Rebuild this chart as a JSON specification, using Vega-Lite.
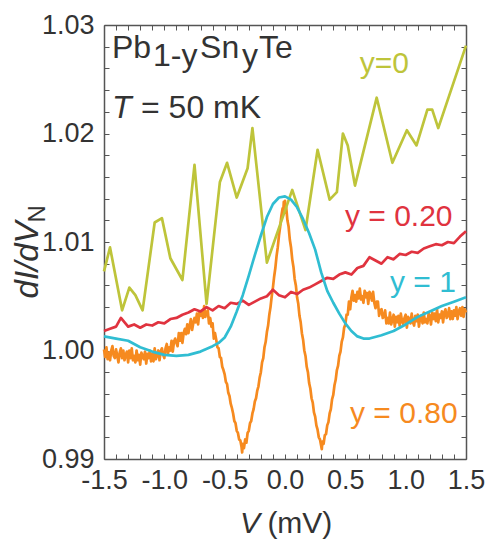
{
  "$schema": "https://vega.github.io/schema/vega-lite/v6.json",
  "width": 362,
  "height": 434,
  "autosize": "none",
  "padding": {"left": 104, "top": 25, "right": 22, "bottom": 88},
  "background": "white",
  "config": {"view": {"stroke": null}, "font": "Liberation Sans"},
  "datasets": {
    "curves": [
      {"s":"y=0.80","V":-1.50,"G":1.0001},{"s":"y=0.80","V":-1.49,"G":0.9994},{"s":"y=0.80","V":-1.48,"G":1.0003},{"s":"y=0.80","V":-1.47,"G":0.9992},{"s":"y=0.80","V":-1.46,"G":0.9998},{"s":"y=0.80","V":-1.45,"G":0.9991},{"s":"y=0.80","V":-1.44,"G":1.0000},{"s":"y=0.80","V":-1.43,"G":1.0004},{"s":"y=0.80","V":-1.42,"G":0.9995},{"s":"y=0.80","V":-1.41,"G":0.9993},
      {"s":"y=0.80","V":-1.40,"G":1.0001},{"s":"y=0.80","V":-1.39,"G":0.9995},{"s":"y=0.80","V":-1.38,"G":0.9989},{"s":"y=0.80","V":-1.37,"G":0.9998},{"s":"y=0.80","V":-1.36,"G":1.0002},{"s":"y=0.80","V":-1.35,"G":0.9993},{"s":"y=0.80","V":-1.34,"G":1.0000},{"s":"y=0.80","V":-1.33,"G":0.9991},{"s":"y=0.80","V":-1.32,"G":0.9996},{"s":"y=0.80","V":-1.31,"G":0.9999},
      {"s":"y=0.80","V":-1.30,"G":0.9989},{"s":"y=0.80","V":-1.29,"G":1.0000},{"s":"y=0.80","V":-1.28,"G":0.9993},{"s":"y=0.80","V":-1.27,"G":1.0002},{"s":"y=0.80","V":-1.26,"G":0.9991},{"s":"y=0.80","V":-1.25,"G":0.9995},{"s":"y=0.80","V":-1.24,"G":0.9989},{"s":"y=0.80","V":-1.23,"G":1.0000},{"s":"y=0.80","V":-1.22,"G":0.9991},{"s":"y=0.80","V":-1.21,"G":0.9996},
      {"s":"y=0.80","V":-1.20,"G":0.9987},{"s":"y=0.80","V":-1.19,"G":0.9998},{"s":"y=0.80","V":-1.18,"G":0.9995},{"s":"y=0.80","V":-1.17,"G":0.9992},{"s":"y=0.80","V":-1.16,"G":0.9999},{"s":"y=0.80","V":-1.15,"G":0.9988},{"s":"y=0.80","V":-1.14,"G":0.9997},{"s":"y=0.80","V":-1.13,"G":0.9993},{"s":"y=0.80","V":-1.12,"G":1.0000},{"s":"y=0.80","V":-1.11,"G":0.9990},
      {"s":"y=0.80","V":-1.10,"G":0.9997},{"s":"y=0.80","V":-1.09,"G":0.9990},{"s":"y=0.80","V":-1.08,"G":1.0002},{"s":"y=0.80","V":-1.07,"G":0.9992},{"s":"y=0.80","V":-1.06,"G":0.9996},{"s":"y=0.80","V":-1.05,"G":1.0000},{"s":"y=0.80","V":-1.04,"G":0.9991},{"s":"y=0.80","V":-1.03,"G":0.9999},{"s":"y=0.80","V":-1.02,"G":1.0002},{"s":"y=0.80","V":-1.01,"G":0.9996},
      {"s":"y=0.80","V":-1.00,"G":0.9993},{"s":"y=0.80","V":-0.99,"G":1.0002},{"s":"y=0.80","V":-0.98,"G":1.0006},{"s":"y=0.80","V":-0.97,"G":0.9997},{"s":"y=0.80","V":-0.96,"G":1.0003},{"s":"y=0.80","V":-0.95,"G":1.0000},{"s":"y=0.80","V":-0.94,"G":1.0009},{"s":"y=0.80","V":-0.93,"G":0.9999},{"s":"y=0.80","V":-0.92,"G":1.0008},{"s":"y=0.80","V":-0.91,"G":1.0011},
      {"s":"y=0.80","V":-0.90,"G":1.0007},{"s":"y=0.80","V":-0.89,"G":1.0004},{"s":"y=0.80","V":-0.88,"G":1.0016},{"s":"y=0.80","V":-0.87,"G":1.0009},{"s":"y=0.80","V":-0.86,"G":1.0016},{"s":"y=0.80","V":-0.85,"G":1.0007},{"s":"y=0.80","V":-0.84,"G":1.0016},{"s":"y=0.80","V":-0.83,"G":1.0020},{"s":"y=0.80","V":-0.82,"G":1.0015},{"s":"y=0.80","V":-0.81,"G":1.0024},
      {"s":"y=0.80","V":-0.80,"G":1.0016},{"s":"y=0.80","V":-0.79,"G":1.0023},{"s":"y=0.80","V":-0.78,"G":1.0029},{"s":"y=0.80","V":-0.77,"G":1.0019},{"s":"y=0.80","V":-0.76,"G":1.0025},{"s":"y=0.80","V":-0.75,"G":1.0030},{"s":"y=0.80","V":-0.74,"G":1.0026},{"s":"y=0.80","V":-0.73,"G":1.0034},{"s":"y=0.80","V":-0.72,"G":1.0024},{"s":"y=0.80","V":-0.71,"G":1.0035},
      {"s":"y=0.80","V":-0.70,"G":1.0032},{"s":"y=0.80","V":-0.69,"G":1.0036},{"s":"y=0.80","V":-0.68,"G":1.0030},{"s":"y=0.80","V":-0.67,"G":1.0041},{"s":"y=0.80","V":-0.66,"G":1.0031},{"s":"y=0.80","V":-0.65,"G":1.0035},{"s":"y=0.80","V":-0.64,"G":1.0037},{"s":"y=0.80","V":-0.63,"G":1.0025},{"s":"y=0.80","V":-0.62,"G":1.0030},{"s":"y=0.80","V":-0.61,"G":1.0022},
      {"s":"y=0.80","V":-0.60,"G":1.0025},{"s":"y=0.80","V":-0.59,"G":1.0011},{"s":"y=0.80","V":-0.58,"G":1.0016},{"s":"y=0.80","V":-0.57,"G":1.0010},{"s":"y=0.80","V":-0.56,"G":1.0003},
      {"s":"y=0.80","V":-0.55,"G":1.0002},{"s":"y=0.80","V":-0.54,"G":0.9994},{"s":"y=0.80","V":-0.53,"G":0.9993},{"s":"y=0.80","V":-0.52,"G":0.9985},{"s":"y=0.80","V":-0.51,"G":0.9982},{"s":"y=0.80","V":-0.50,"G":0.9978},{"s":"y=0.80","V":-0.49,"G":0.9971},{"s":"y=0.80","V":-0.48,"G":0.9969},{"s":"y=0.80","V":-0.47,"G":0.9961},{"s":"y=0.80","V":-0.46,"G":0.9958},
      {"s":"y=0.80","V":-0.45,"G":0.9951},{"s":"y=0.80","V":-0.44,"G":0.9947},{"s":"y=0.80","V":-0.43,"G":0.9942},{"s":"y=0.80","V":-0.42,"G":0.9935},{"s":"y=0.80","V":-0.41,"G":0.9933},{"s":"y=0.80","V":-0.40,"G":0.9926},{"s":"y=0.80","V":-0.39,"G":0.9924},{"s":"y=0.80","V":-0.38,"G":0.9918},{"s":"y=0.80","V":-0.37,"G":0.9917},{"s":"y=0.80","V":-0.36,"G":0.9911},
      {"s":"y=0.80","V":-0.355,"G":0.9906},{"s":"y=0.80","V":-0.35,"G":0.9914},{"s":"y=0.80","V":-0.34,"G":0.9910},{"s":"y=0.80","V":-0.33,"G":0.9918},{"s":"y=0.80","V":-0.32,"G":0.9915},{"s":"y=0.80","V":-0.31,"G":0.9924},{"s":"y=0.80","V":-0.30,"G":0.9926},{"s":"y=0.80","V":-0.29,"G":0.9933},{"s":"y=0.80","V":-0.28,"G":0.9935},{"s":"y=0.80","V":-0.27,"G":0.9942},
      {"s":"y=0.80","V":-0.26,"G":0.9946},{"s":"y=0.80","V":-0.25,"G":0.9953},{"s":"y=0.80","V":-0.24,"G":0.9956},{"s":"y=0.80","V":-0.23,"G":0.9963},{"s":"y=0.80","V":-0.22,"G":0.9967},{"s":"y=0.80","V":-0.21,"G":0.9975},{"s":"y=0.80","V":-0.20,"G":0.9980},{"s":"y=0.80","V":-0.19,"G":0.9989},{"s":"y=0.80","V":-0.18,"G":0.9993},{"s":"y=0.80","V":-0.17,"G":1.0003},
      {"s":"y=0.80","V":-0.16,"G":1.0008},{"s":"y=0.80","V":-0.15,"G":1.0017},{"s":"y=0.80","V":-0.14,"G":1.0023},{"s":"y=0.80","V":-0.13,"G":1.0033},{"s":"y=0.80","V":-0.12,"G":1.0040},{"s":"y=0.80","V":-0.11,"G":1.0050},{"s":"y=0.80","V":-0.10,"G":1.0058},{"s":"y=0.80","V":-0.09,"G":1.0068},{"s":"y=0.80","V":-0.08,"G":1.0076},{"s":"y=0.80","V":-0.07,"G":1.0087},
      {"s":"y=0.80","V":-0.06,"G":1.0095},{"s":"y=0.80","V":-0.05,"G":1.0106},{"s":"y=0.80","V":-0.04,"G":1.0114},{"s":"y=0.80","V":-0.03,"G":1.0124},{"s":"y=0.80","V":-0.02,"G":1.0131},{"s":"y=0.80","V":-0.015,"G":1.0126},{"s":"y=0.80","V":-0.01,"G":1.0137},{"s":"y=0.80","V":-0.005,"G":1.0129},{"s":"y=0.80","V":0.00,"G":1.0138},{"s":"y=0.80","V":0.005,"G":1.0127},
      {"s":"y=0.80","V":0.01,"G":1.0132},{"s":"y=0.80","V":0.02,"G":1.0120},{"s":"y=0.80","V":0.03,"G":1.0114},{"s":"y=0.80","V":0.04,"G":1.0102},{"s":"y=0.80","V":0.05,"G":1.0095},{"s":"y=0.80","V":0.06,"G":1.0084},{"s":"y=0.80","V":0.07,"G":1.0077},{"s":"y=0.80","V":0.08,"G":1.0066},{"s":"y=0.80","V":0.09,"G":1.0060},{"s":"y=0.80","V":0.10,"G":1.0049},
      {"s":"y=0.80","V":0.11,"G":1.0043},{"s":"y=0.80","V":0.12,"G":1.0032},{"s":"y=0.80","V":0.13,"G":1.0026},{"s":"y=0.80","V":0.14,"G":1.0016},{"s":"y=0.80","V":0.15,"G":1.0010},{"s":"y=0.80","V":0.16,"G":1.0000},{"s":"y=0.80","V":0.17,"G":0.9995},{"s":"y=0.80","V":0.18,"G":0.9985},{"s":"y=0.80","V":0.19,"G":0.9980},{"s":"y=0.80","V":0.20,"G":0.9970},
      {"s":"y=0.80","V":0.21,"G":0.9965},{"s":"y=0.80","V":0.22,"G":0.9956},{"s":"y=0.80","V":0.23,"G":0.9952},{"s":"y=0.80","V":0.24,"G":0.9943},{"s":"y=0.80","V":0.25,"G":0.9939},{"s":"y=0.80","V":0.26,"G":0.9931},{"s":"y=0.80","V":0.27,"G":0.9927},{"s":"y=0.80","V":0.28,"G":0.9920},{"s":"y=0.80","V":0.29,"G":0.9918},{"s":"y=0.80","V":0.30,"G":0.9912},
      {"s":"y=0.80","V":0.305,"G":0.9909},{"s":"y=0.80","V":0.31,"G":0.9916},{"s":"y=0.80","V":0.32,"G":0.9914},{"s":"y=0.80","V":0.33,"G":0.9922},{"s":"y=0.80","V":0.34,"G":0.9923},{"s":"y=0.80","V":0.35,"G":0.9931},{"s":"y=0.80","V":0.36,"G":0.9934},{"s":"y=0.80","V":0.37,"G":0.9942},{"s":"y=0.80","V":0.38,"G":0.9946},{"s":"y=0.80","V":0.39,"G":0.9955},
      {"s":"y=0.80","V":0.40,"G":0.9959},{"s":"y=0.80","V":0.41,"G":0.9968},{"s":"y=0.80","V":0.42,"G":0.9973},{"s":"y=0.80","V":0.43,"G":0.9982},{"s":"y=0.80","V":0.44,"G":0.9986},{"s":"y=0.80","V":0.45,"G":0.9995},{"s":"y=0.80","V":0.46,"G":0.9999},{"s":"y=0.80","V":0.47,"G":1.0008},{"s":"y=0.80","V":0.48,"G":1.0012},{"s":"y=0.80","V":0.49,"G":1.0021},
      {"s":"y=0.80","V":0.50,"G":1.0024},{"s":"y=0.80","V":0.51,"G":1.0033},
      {"s":"y=0.80","V":0.52,"G":1.0033},{"s":"y=0.80","V":0.53,"G":1.0045},{"s":"y=0.80","V":0.54,"G":1.0038},{"s":"y=0.80","V":0.55,"G":1.0049},{"s":"y=0.80","V":0.56,"G":1.0055},{"s":"y=0.80","V":0.57,"G":1.0046},{"s":"y=0.80","V":0.58,"G":1.0051},{"s":"y=0.80","V":0.59,"G":1.0045},{"s":"y=0.80","V":0.60,"G":1.0054},{"s":"y=0.80","V":0.61,"G":1.0048},
      {"s":"y=0.80","V":0.62,"G":1.0057},{"s":"y=0.80","V":0.63,"G":1.0047},{"s":"y=0.80","V":0.64,"G":1.0050},{"s":"y=0.80","V":0.65,"G":1.0044},{"s":"y=0.80","V":0.66,"G":1.0055},{"s":"y=0.80","V":0.67,"G":1.0049},{"s":"y=0.80","V":0.68,"G":1.0053},{"s":"y=0.80","V":0.69,"G":1.0043},{"s":"y=0.80","V":0.70,"G":1.0054},{"s":"y=0.80","V":0.71,"G":1.0052},
      {"s":"y=0.80","V":0.72,"G":1.0046},{"s":"y=0.80","V":0.73,"G":1.0054},{"s":"y=0.80","V":0.74,"G":1.0044},{"s":"y=0.80","V":0.75,"G":1.0039},{"s":"y=0.80","V":0.76,"G":1.0045},{"s":"y=0.80","V":0.77,"G":1.0045},{"s":"y=0.80","V":0.78,"G":1.0032},{"s":"y=0.80","V":0.79,"G":1.0037},{"s":"y=0.80","V":0.80,"G":1.0038},{"s":"y=0.80","V":0.81,"G":1.0030},
      {"s":"y=0.80","V":0.82,"G":1.0031},{"s":"y=0.80","V":0.83,"G":1.0037},{"s":"y=0.80","V":0.84,"G":1.0025},{"s":"y=0.80","V":0.85,"G":1.0030},{"s":"y=0.80","V":0.86,"G":1.0025},{"s":"y=0.80","V":0.87,"G":1.0035},{"s":"y=0.80","V":0.88,"G":1.0024},{"s":"y=0.80","V":0.89,"G":1.0028},{"s":"y=0.80","V":0.90,"G":1.0033},{"s":"y=0.80","V":0.91,"G":1.0022},
      {"s":"y=0.80","V":0.92,"G":1.0031},{"s":"y=0.80","V":0.93,"G":1.0026},{"s":"y=0.80","V":0.94,"G":1.0032},{"s":"y=0.80","V":0.95,"G":1.0023},{"s":"y=0.80","V":0.96,"G":1.0034},{"s":"y=0.80","V":0.97,"G":1.0027},{"s":"y=0.80","V":0.98,"G":1.0024},{"s":"y=0.80","V":0.99,"G":1.0030},{"s":"y=0.80","V":1.00,"G":1.0033},{"s":"y=0.80","V":1.01,"G":1.0021},
      {"s":"y=0.80","V":1.02,"G":1.0031},{"s":"y=0.80","V":1.03,"G":1.0029},{"s":"y=0.80","V":1.04,"G":1.0025},{"s":"y=0.80","V":1.05,"G":1.0034},{"s":"y=0.80","V":1.06,"G":1.0026},{"s":"y=0.80","V":1.07,"G":1.0023},{"s":"y=0.80","V":1.08,"G":1.0032},{"s":"y=0.80","V":1.09,"G":1.0027},{"s":"y=0.80","V":1.10,"G":1.0033},{"s":"y=0.80","V":1.11,"G":1.0022},
      {"s":"y=0.80","V":1.12,"G":1.0030},{"s":"y=0.80","V":1.13,"G":1.0032},{"s":"y=0.80","V":1.14,"G":1.0025},{"s":"y=0.80","V":1.15,"G":1.0035},{"s":"y=0.80","V":1.16,"G":1.0026},{"s":"y=0.80","V":1.17,"G":1.0029},{"s":"y=0.80","V":1.18,"G":1.0025},{"s":"y=0.80","V":1.19,"G":1.0034},{"s":"y=0.80","V":1.20,"G":1.0032},{"s":"y=0.80","V":1.21,"G":1.0024},
      {"s":"y=0.80","V":1.22,"G":1.0035},{"s":"y=0.80","V":1.23,"G":1.0029},{"s":"y=0.80","V":1.24,"G":1.0034},{"s":"y=0.80","V":1.25,"G":1.0027},{"s":"y=0.80","V":1.26,"G":1.0038},{"s":"y=0.80","V":1.27,"G":1.0026},{"s":"y=0.80","V":1.28,"G":1.0033},{"s":"y=0.80","V":1.29,"G":1.0030},{"s":"y=0.80","V":1.30,"G":1.0036},{"s":"y=0.80","V":1.31,"G":1.0026},
      {"s":"y=0.80","V":1.32,"G":1.0035},{"s":"y=0.80","V":1.33,"G":1.0038},{"s":"y=0.80","V":1.34,"G":1.0030},{"s":"y=0.80","V":1.35,"G":1.0032},{"s":"y=0.80","V":1.36,"G":1.0039},{"s":"y=0.80","V":1.37,"G":1.0029},{"s":"y=0.80","V":1.38,"G":1.0036},{"s":"y=0.80","V":1.39,"G":1.0029},{"s":"y=0.80","V":1.40,"G":1.0037},{"s":"y=0.80","V":1.41,"G":1.0032},
      {"s":"y=0.80","V":1.42,"G":1.0040},{"s":"y=0.80","V":1.43,"G":1.0029},{"s":"y=0.80","V":1.44,"G":1.0036},{"s":"y=0.80","V":1.45,"G":1.0039},{"s":"y=0.80","V":1.46,"G":1.0032},{"s":"y=0.80","V":1.47,"G":1.0040},{"s":"y=0.80","V":1.48,"G":1.0031},{"s":"y=0.80","V":1.49,"G":1.0038},{"s":"y=0.80","V":1.50,"G":1.0035},

      {"s":"y=0","V":-1.50,"G":1.0073},{"s":"y=0","V":-1.45,"G":1.0095},{"s":"y=0","V":-1.35,"G":1.0037},{"s":"y=0","V":-1.29,"G":1.0058},{"s":"y=0","V":-1.24,"G":1.0051},{"s":"y=0","V":-1.18,"G":1.0037},{"s":"y=0","V":-1.08,"G":1.0118},{"s":"y=0","V":-1.02,"G":1.0122},{"s":"y=0","V":-0.95,"G":1.0085},{"s":"y=0","V":-0.85,"G":1.0065},{"s":"y=0","V":-0.75,"G":1.0171},{"s":"y=0","V":-0.65,"G":1.0043},{"s":"y=0","V":-0.54,"G":1.0155},{"s":"y=0","V":-0.48,"G":1.0173},{"s":"y=0","V":-0.40,"G":1.0141},{"s":"y=0","V":-0.31,"G":1.0168},{"s":"y=0","V":-0.27,"G":1.0205},{"s":"y=0","V":-0.15,"G":1.0081},{"s":"y=0","V":0.06,"G":1.0148},{"s":"y=0","V":0.17,"G":1.0111},{"s":"y=0","V":0.27,"G":1.0185},{"s":"y=0","V":0.37,"G":1.0139},{"s":"y=0","V":0.43,"G":1.0146},{"s":"y=0","V":0.48,"G":1.0200},{"s":"y=0","V":0.52,"G":1.0189},{"s":"y=0","V":0.58,"G":1.0152},{"s":"y=0","V":0.76,"G":1.0233},{"s":"y=0","V":0.89,"G":1.0173},{"s":"y=0","V":1.01,"G":1.0203},{"s":"y=0","V":1.09,"G":1.0189},{"s":"y=0","V":1.18,"G":1.0222},{"s":"y=0","V":1.22,"G":1.0222},{"s":"y=0","V":1.27,"G":1.0205},{"s":"y=0","V":1.50,"G":1.0281},

      {"s":"y=0.20","V":-1.50,"G":1.0018},{"s":"y=0.20","V":-1.45,"G":1.0020},{"s":"y=0.20","V":-1.40,"G":1.0022},{"s":"y=0.20","V":-1.36,"G":1.0030},{"s":"y=0.20","V":-1.30,"G":1.0022},{"s":"y=0.20","V":-1.25,"G":1.0024},{"s":"y=0.20","V":-1.20,"G":1.0021},{"s":"y=0.20","V":-1.15,"G":1.0024},{"s":"y=0.20","V":-1.10,"G":1.0023},{"s":"y=0.20","V":-1.05,"G":1.0026},{"s":"y=0.20","V":-1.00,"G":1.0025},{"s":"y=0.20","V":-0.95,"G":1.0029},{"s":"y=0.20","V":-0.90,"G":1.0030},{"s":"y=0.20","V":-0.85,"G":1.0033},{"s":"y=0.20","V":-0.80,"G":1.0035},{"s":"y=0.20","V":-0.75,"G":1.0038},{"s":"y=0.20","V":-0.70,"G":1.0036},{"s":"y=0.20","V":-0.65,"G":1.0040},{"s":"y=0.20","V":-0.60,"G":1.0037},{"s":"y=0.20","V":-0.55,"G":1.0041},{"s":"y=0.20","V":-0.50,"G":1.0039},{"s":"y=0.20","V":-0.45,"G":1.0044},{"s":"y=0.20","V":-0.40,"G":1.0043},{"s":"y=0.20","V":-0.35,"G":1.0046},{"s":"y=0.20","V":-0.30,"G":1.0042},{"s":"y=0.20","V":-0.25,"G":1.0045},{"s":"y=0.20","V":-0.20,"G":1.0048},{"s":"y=0.20","V":-0.15,"G":1.0050},{"s":"y=0.20","V":-0.10,"G":1.0056},{"s":"y=0.20","V":-0.05,"G":1.0051},{"s":"y=0.20","V":0.00,"G":1.0049},{"s":"y=0.20","V":0.05,"G":1.0054},{"s":"y=0.20","V":0.10,"G":1.0052},{"s":"y=0.20","V":0.15,"G":1.0056},{"s":"y=0.20","V":0.20,"G":1.0058},{"s":"y=0.20","V":0.25,"G":1.0061},{"s":"y=0.20","V":0.30,"G":1.0064},{"s":"y=0.20","V":0.35,"G":1.0067},{"s":"y=0.20","V":0.40,"G":1.0066},{"s":"y=0.20","V":0.45,"G":1.0070},{"s":"y=0.20","V":0.50,"G":1.0072},{"s":"y=0.20","V":0.55,"G":1.0070},{"s":"y=0.20","V":0.60,"G":1.0076},{"s":"y=0.20","V":0.65,"G":1.0078},{"s":"y=0.20","V":0.70,"G":1.0086},{"s":"y=0.20","V":0.75,"G":1.0083},{"s":"y=0.20","V":0.80,"G":1.0080},{"s":"y=0.20","V":0.85,"G":1.0086},{"s":"y=0.20","V":0.90,"G":1.0084},{"s":"y=0.20","V":0.95,"G":1.0089},{"s":"y=0.20","V":1.00,"G":1.0088},{"s":"y=0.20","V":1.05,"G":1.0091},{"s":"y=0.20","V":1.10,"G":1.0090},{"s":"y=0.20","V":1.15,"G":1.0094},{"s":"y=0.20","V":1.20,"G":1.0096},{"s":"y=0.20","V":1.25,"G":1.0098},{"s":"y=0.20","V":1.30,"G":1.0097},{"s":"y=0.20","V":1.35,"G":1.0100},{"s":"y=0.20","V":1.40,"G":1.0099},{"s":"y=0.20","V":1.45,"G":1.0105},{"s":"y=0.20","V":1.50,"G":1.0110},

      {"s":"y=1","V":-1.50,"G":1.0013},{"s":"y=1","V":-1.40,"G":1.0011},{"s":"y=1","V":-1.30,"G":1.0009},{"s":"y=1","V":-1.20,"G":1.0003},{"s":"y=1","V":-1.10,"G":0.9999},{"s":"y=1","V":-1.00,"G":0.9996},{"s":"y=1","V":-0.90,"G":0.9995},{"s":"y=1","V":-0.80,"G":0.9996},{"s":"y=1","V":-0.70,"G":0.9999},{"s":"y=1","V":-0.60,"G":1.0004},{"s":"y=1","V":-0.55,"G":1.0007},{"s":"y=1","V":-0.50,"G":1.0012},{"s":"y=1","V":-0.45,"G":1.0022},{"s":"y=1","V":-0.40,"G":1.0036},{"s":"y=1","V":-0.35,"G":1.0051},{"s":"y=1","V":-0.30,"G":1.0069},{"s":"y=1","V":-0.25,"G":1.0088},{"s":"y=1","V":-0.20,"G":1.0106},{"s":"y=1","V":-0.15,"G":1.0123},{"s":"y=1","V":-0.10,"G":1.0135},{"s":"y=1","V":-0.05,"G":1.0141},{"s":"y=1","V":0.00,"G":1.0142},{"s":"y=1","V":0.05,"G":1.0139},{"s":"y=1","V":0.10,"G":1.0132},{"s":"y=1","V":0.15,"G":1.0121},{"s":"y=1","V":0.20,"G":1.0108},{"s":"y=1","V":0.25,"G":1.0093},{"s":"y=1","V":0.30,"G":1.0072},{"s":"y=1","V":0.35,"G":1.0055},{"s":"y=1","V":0.40,"G":1.0044},{"s":"y=1","V":0.45,"G":1.0034},{"s":"y=1","V":0.50,"G":1.0025},{"s":"y=1","V":0.55,"G":1.0018},{"s":"y=1","V":0.60,"G":1.0013},{"s":"y=1","V":0.65,"G":1.0011},{"s":"y=1","V":0.70,"G":1.0011},{"s":"y=1","V":0.80,"G":1.0014},{"s":"y=1","V":0.90,"G":1.0018},{"s":"y=1","V":1.00,"G":1.0024},{"s":"y=1","V":1.10,"G":1.0031},{"s":"y=1","V":1.20,"G":1.0036},{"s":"y=1","V":1.30,"G":1.0041},{"s":"y=1","V":1.40,"G":1.0045},{"s":"y=1","V":1.50,"G":1.0049}
    ],
    "serieslabels": [
      {"s":"y=0","t":"y=0","V":0.62,"G":1.0256},
      {"s":"y=0.20","t":"y = 0.20","V":0.497,"G":1.0115},
      {"s":"y=1","t":"y = 1","V":0.87,"G":1.0054},
      {"s":"y=0.80","t":"y = 0.80","V":0.539,"G":0.9933}
    ],
    "plain": [
      {"t":"Pb","V":-1.434,"G":1.0270},
      {"t":"1-y","V":-1.094,"G":1.0262},
      {"t":"Sn","V":-0.704,"G":1.0270},
      {"t":"y","V":-0.356,"G":1.0262},
      {"t":"Te","V":-0.216,"G":1.0270},
      {"t":"= 50 mK","V":-1.193,"G":1.0214}
    ],
    "italic": [
      {"t":"T","V":-1.434,"G":1.0214}
    ],
    "xtitleItalic": [{"t":"V","V":-0.373,"G":0.9832}],
    "xtitlePlain": [{"t":"(mV)","V":-0.146,"G":0.9832}],
    "ytitle": [{"t":"dI/dV","V":-2.047,"G":1.0048}],
    "ysub": [{"t":"N","V":-1.989,"G":1.0118}]
  },
  "resolve": {"axis": {"x": "independent", "y": "independent"}},
  "layer": [
    {
      "data": {"name": "curves"},
      "mark": {"type": "line", "strokeWidth": 2.7, "strokeJoin": "round"},
      "encoding": {
        "x": {"field": "V", "type": "quantitative",
          "scale": {"domain": [-1.5, 1.5], "nice": false, "zero": false},
          "axis": {"orient": "bottom", "title": null, "grid": false,
            "values": [-1.5,-1.4,-1.3,-1.2,-1.1,-1.0,-0.9,-0.8,-0.7,-0.6,-0.5,-0.4,-0.3,-0.2,-0.1,0,0.1,0.2,0.3,0.4,0.5,0.6,0.7,0.8,0.9,1.0,1.1,1.2,1.3,1.4,1.5],
            "labelExpr": "abs(datum.value*2-round(datum.value*2))<0.001 ? ((datum.value < -0.001 ? '-' : '') + format(abs(datum.value), '.1f')) : ''",
            "labelOverlap": false, "labelFlush": false, "labelFont": "Liberation Sans", "labelFontSize": 27, "labelColor": "#333333",
            "tickSize": -5, "labelPadding": 13, "tickColor": "#555555", "tickWidth": 1,
            "domainColor": "#555555", "domainWidth": 1.5}},
        "y": {"field": "G", "type": "quantitative",
          "scale": {"domain": [0.99, 1.03], "nice": false, "zero": false},
          "axis": {"orient": "left", "title": null, "grid": false,
            "values": [0.99,0.992,0.994,0.996,0.998,1.0,1.002,1.004,1.006,1.008,1.01,1.012,1.014,1.016,1.018,1.02,1.022,1.024,1.026,1.028,1.03],
            "labelExpr": "abs(datum.value*100-round(datum.value*100))<0.001 ? format(datum.value, '.2f') : ''",
            "labelOverlap": false, "labelFlush": false, "labelFont": "Liberation Sans", "labelFontSize": 27, "labelColor": "#333333",
            "tickSize": -5, "labelPadding": 15, "tickColor": "#555555", "tickWidth": 1,
            "domainColor": "#555555", "domainWidth": 1.5}},
        "color": {"field": "s", "type": "nominal", "legend": null,
          "scale": {"domain": ["y=0.80","y=0","y=0.20","y=1"], "range": ["#F68A1F","#BEC43A","#E0333F","#30BDD2"]}}
      }
    },
    {
      "data": {"name": "serieslabels"},
      "mark": {"type": "text", "align": "left", "baseline": "alphabetic", "font": "Liberation Sans", "fontSize": 30},
      "encoding": {
        "x": {"field": "V", "type": "quantitative",
          "axis": {"orient": "top", "title": null, "grid": false, "labels": false,
            "values": [-1.5,-1.4,-1.3,-1.2,-1.1,-1.0,-0.9,-0.8,-0.7,-0.6,-0.5,-0.4,-0.3,-0.2,-0.1,0,0.1,0.2,0.3,0.4,0.5,0.6,0.7,0.8,0.9,1.0,1.1,1.2,1.3,1.4,1.5],
            "tickSize": -5, "tickColor": "#555555", "tickWidth": 1, "domainColor": "#555555", "domainWidth": 1.5}},
        "y": {"field": "G", "type": "quantitative",
          "axis": {"orient": "right", "title": null, "grid": false, "labels": false,
            "values": [0.99,0.992,0.994,0.996,0.998,1.0,1.002,1.004,1.006,1.008,1.01,1.012,1.014,1.016,1.018,1.02,1.022,1.024,1.026,1.028,1.03],
            "tickSize": -5, "tickColor": "#555555", "tickWidth": 1, "domainColor": "#555555", "domainWidth": 1.5}},
        "text": {"field": "t"},
        "color": {"field": "s", "type": "nominal", "legend": null}
      }
    },
    {
      "data": {"name": "plain"},
      "mark": {"type": "text", "align": "left", "baseline": "alphabetic", "font": "Liberation Sans", "fontSize": 32, "color": "#333333"},
      "encoding": {
        "x": {"field": "V", "type": "quantitative", "axis": null},
        "y": {"field": "G", "type": "quantitative", "axis": null},
        "text": {"field": "t"}
      }
    },
    {
      "data": {"name": "italic"},
      "mark": {"type": "text", "align": "left", "baseline": "alphabetic", "font": "Liberation Sans", "fontStyle": "italic", "fontSize": 32, "color": "#333333"},
      "encoding": {
        "x": {"field": "V", "type": "quantitative", "axis": null},
        "y": {"field": "G", "type": "quantitative", "axis": null},
        "text": {"field": "t"}
      }
    },
    {
      "data": {"name": "xtitleItalic"},
      "mark": {"type": "text", "align": "left", "baseline": "alphabetic", "font": "Liberation Sans", "fontStyle": "italic", "fontSize": 30, "color": "#333333"},
      "encoding": {
        "x": {"field": "V", "type": "quantitative", "axis": null},
        "y": {"field": "G", "type": "quantitative", "axis": null},
        "text": {"field": "t"}
      }
    },
    {
      "data": {"name": "xtitlePlain"},
      "mark": {"type": "text", "align": "left", "baseline": "alphabetic", "font": "Liberation Sans", "fontSize": 30, "color": "#333333"},
      "encoding": {
        "x": {"field": "V", "type": "quantitative", "axis": null},
        "y": {"field": "G", "type": "quantitative", "axis": null},
        "text": {"field": "t"}
      }
    },
    {
      "data": {"name": "ytitle"},
      "mark": {"type": "text", "align": "left", "baseline": "alphabetic", "angle": 270, "font": "Liberation Sans", "fontStyle": "italic", "fontSize": 33, "color": "#333333"},
      "encoding": {
        "x": {"field": "V", "type": "quantitative", "axis": null},
        "y": {"field": "G", "type": "quantitative", "axis": null},
        "text": {"field": "t"}
      }
    },
    {
      "data": {"name": "ysub"},
      "mark": {"type": "text", "align": "left", "baseline": "alphabetic", "angle": 270, "font": "Liberation Sans", "fontSize": 24, "color": "#333333"},
      "encoding": {
        "x": {"field": "V", "type": "quantitative", "axis": null},
        "y": {"field": "G", "type": "quantitative", "axis": null},
        "text": {"field": "t"}
      }
    }
  ]
}
